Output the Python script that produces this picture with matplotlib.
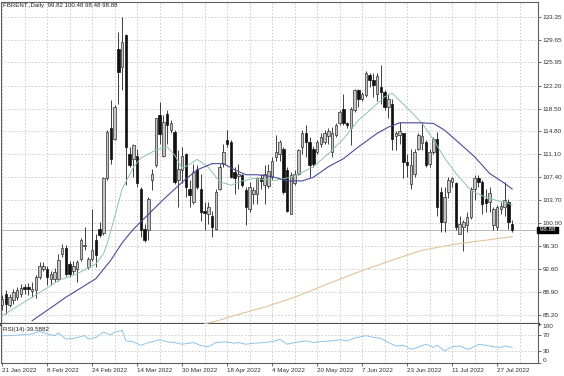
import numpy as np
import matplotlib
matplotlib.use("Agg")
import matplotlib.pyplot as plt

plt.rcParams['font.family'] = ['Liberation Sans', 'DejaVu Sans']

# daily candles, bar index 0 = 21 Jan 2022
opens = [86.7, 88.6, 86.7, 87.5, 88.0, 88.5, 89.6, 89.6, 89.0, 89.1,
         91.2, 92.6, 92.6, 91.0, 91.0, 91.0, 95.0, 96.0, 93.4, 92.3,
         92.6, 94.2, 96.3, 92.9, 94.2, 97.2, 99.1, 98.4, 107.2, 115.3,
         113.6, 128.2, 125.3, 130.4, 111.2, 110.4, 110.9, 105.5, 99.0, 98.8,
         106.9, 109.3, 117.4, 110.9, 117.7, 115.0, 114.7, 107.0, 108.5, 111.1,
         105.5, 103.4, 108.8, 105.5, 102.0, 101.4, 101.2, 99.1, 105.5, 109.6,
         113.4, 113.1, 108.2, 107.6, 107.7, 105.3, 102.3, 104.7, 104.7, 107.2,
         106.1, 106.0, 107.4, 110.7, 111.2, 112.0, 108.5, 101.5, 106.4, 108.0,
         112.3, 114.5, 113.1, 112.0, 111.5, 112.8, 113.1, 114.0, 111.5, 114.2,
         116.1, 118.5, 116.1, 115.3, 118.2, 121.5, 120.1, 120.7, 123.9, 123.1,
         120.9, 122.0, 121.2, 118.8, 119.3, 114.0, 114.2, 114.5, 109.9, 106.3,
         108.0, 112.0, 113.0, 113.1, 109.6, 111.5, 113.6, 105.0, 100.2, 105.0,
         106.6, 106.4, 98.3, 99.4, 99.6, 101.0, 105.5, 107.2, 106.6, 103.9,
         103.4, 99.6, 99.4, 102.2, 102.6, 103.4, 99.82]
highs = [88.3, 89.1, 88.5, 89.3, 89.6, 90.1, 90.2, 90.3, 90.4, 91.6,
         93.7, 93.7, 93.0, 92.2, 92.8, 95.0, 96.6, 96.4, 93.9, 93.8,
         94.0, 97.5, 99.3, 94.5, 102.3, 98.3, 100.1, 107.4, 115.0, 119.9,
         119.0, 130.9, 133.35, 130.6, 112.3, 112.8, 112.0, 105.8, 99.9, 104.2,
         108.8, 117.0, 119.6, 117.4, 118.2, 116.6, 115.0, 111.8, 112.3, 111.3,
         106.9, 109.6, 109.3, 108.0, 103.4, 103.4, 102.0, 105.5, 109.6, 112.8,
         115.0, 113.4, 109.1, 109.6, 108.0, 105.8, 106.6, 105.8, 107.4, 108.0,
         109.3, 109.6, 110.7, 114.2, 113.4, 112.3, 109.1, 108.2, 108.5, 112.0,
         115.0, 115.8, 113.9, 112.5, 113.4, 114.5, 115.0, 115.3, 115.5, 116.1,
         118.2, 120.9, 116.3, 118.8, 121.7, 121.6, 121.2, 124.5, 124.2, 124.2,
         124.2, 125.5, 121.5, 120.9, 120.1, 114.8, 116.3, 114.6, 111.2, 112.0,
         112.0, 114.5, 116.3, 113.4, 112.0, 113.9, 114.7, 105.8, 105.8, 107.4,
         107.4, 106.6, 101.2, 100.5, 101.8, 105.8, 107.7, 107.7, 106.9, 105.5,
         105.8, 102.6, 102.9, 103.4, 106.6, 103.9, 100.48]
lows = [85.9, 85.3, 86.4, 86.9, 87.6, 88.0, 88.5, 88.3, 88.0, 87.8,
        91.0, 92.3, 89.9, 90.0, 90.5, 90.7, 94.5, 91.5, 91.2, 91.8,
        90.4, 93.9, 95.6, 92.6, 93.8, 92.9, 97.7, 98.0, 106.9, 109.6,
        113.4, 119.3, 121.5, 106.1, 109.0, 107.4, 105.8, 97.7, 96.9, 97.2,
        105.3, 109.0, 112.8, 110.7, 112.8, 114.6, 106.3, 102.6, 106.4, 104.2,
        102.6, 103.1, 105.5, 100.4, 98.8, 99.9, 97.7, 98.8, 105.3, 109.1,
        112.3, 107.2, 104.7, 105.5, 105.8, 99.6, 101.8, 103.1, 103.1, 105.5,
        103.1, 105.7, 106.9, 110.1, 110.1, 104.7, 101.8, 101.4, 106.1, 107.7,
        111.2, 110.7, 107.4, 109.0, 111.2, 112.3, 112.8, 112.8, 110.7, 113.9,
        115.8, 115.8, 115.3, 112.6, 118.0, 118.8, 119.8, 120.4, 122.0, 120.4,
        119.8, 119.3, 118.2, 117.0, 111.8, 111.8, 112.8, 107.2, 107.4, 105.5,
        107.4, 111.8, 111.8, 109.0, 109.0, 111.2, 101.2, 98.5, 98.5, 104.0,
        105.8, 98.8, 98.2, 95.4, 98.5, 100.7, 103.7, 105.8, 101.5, 101.8,
        101.8, 98.8, 98.8, 101.5, 101.2, 99.1, 98.48]
closes = [87.7, 86.9, 88.0, 88.8, 89.1, 89.5, 89.3, 89.3, 89.4, 91.2,
          93.1, 93.0, 91.2, 91.8, 92.0, 94.0, 95.9, 91.8, 91.8, 93.1,
          93.7, 97.2, 96.5, 94.2, 95.6, 94.8, 98.0, 107.2, 114.7, 110.4,
          118.7, 124.4, 129.3, 112.3, 109.3, 112.6, 106.4, 98.8, 97.2, 103.9,
          108.0, 116.9, 114.4, 116.3, 115.8, 116.1, 106.6, 108.8, 110.9, 105.8,
          104.5, 108.2, 105.8, 101.8, 101.6, 102.6, 99.4, 105.0, 109.1, 111.5,
          112.8, 107.4, 107.2, 108.0, 106.1, 102.6, 105.8, 105.3, 107.2, 106.8,
          108.0, 108.4, 110.1, 111.5, 113.1, 105.0, 102.0, 107.7, 108.0, 111.8,
          114.5, 113.1, 109.3, 109.5, 113.1, 113.9, 114.5, 114.8, 114.5, 115.8,
          118.0, 116.1, 115.8, 118.5, 121.5, 120.1, 120.9, 124.2, 123.1, 122.3,
          123.7, 121.2, 118.8, 120.0, 113.6, 114.5, 114.9, 109.9, 109.3, 109.4,
          111.5, 114.2, 114.0, 109.3, 111.5, 113.6, 102.6, 100.2, 104.2, 106.9,
          107.2, 99.4, 99.9, 100.2, 101.0, 105.5, 107.2, 106.6, 103.1, 103.2,
          104.8, 102.2, 102.6, 102.8, 103.7, 100.2, 98.88]

# moving averages
fast_idx = [0, 4, 8, 12, 15, 20, 25, 27, 28, 30, 32, 35, 37, 41, 44, 46, 48, 50,
            52, 55, 58, 61, 64, 67, 70, 73, 77, 80, 83, 87, 91, 95, 98, 100, 102,
            104, 106, 109, 112, 115, 118, 121, 125, 128, 132, 134, 136]
fast_ma = [85.0, 86.5, 88.0, 89.5, 90.7, 91.8, 93.4, 95.0, 96.6, 101.0, 105.5,
           109.0, 110.5, 111.8, 112.3, 111.0, 108.8, 109.5, 110.3, 109.0, 106.7,
           106.1, 106.8, 107.2, 107.0, 106.9, 107.4, 108.2, 109.1, 111.2, 113.6,
           116.6, 118.2, 119.3, 120.4, 121.0, 119.8, 118.0, 116.1, 113.5, 110.5,
           108.0, 105.3, 104.4, 103.6, 103.4, 102.9]
slow_idx = [8, 13, 17, 21, 25, 29, 32, 35, 38, 43, 48, 52, 56, 59, 62, 65, 68, 72,
            76, 80, 83, 87, 91, 95, 100, 103, 106, 111, 115, 118, 121, 126, 130,
            134, 136]
slow_ma = [84.2, 86.3, 88.0, 89.5, 91.0, 94.0, 96.8, 99.0, 100.8, 103.8, 106.6,
           108.6, 109.6, 109.6, 108.6, 107.8, 107.8, 107.5, 106.8, 106.8, 107.4,
           109.1, 110.4, 112.3, 114.5, 115.5, 116.2, 116.2, 116.1, 115.0, 113.4,
           110.7, 108.0, 106.4, 105.5]
long_idx = [54, 58, 64, 70, 78, 87, 96, 104, 112, 121, 130, 136]
long_ma = [83.7, 84.3, 85.4, 86.4, 88.0, 90.2, 92.3, 94.0, 95.6, 96.6, 97.3, 97.8]

rsi_idx = [0, 2, 5, 8, 10, 12, 14, 15, 17, 19, 22, 23, 25, 27, 29, 30, 32, 33,
           35, 37, 39, 42, 44, 46, 48, 51, 53, 55, 57, 60, 62, 63, 65, 67, 70,
           73, 74, 76, 78, 81, 83, 85, 88, 90, 92, 94, 97, 99, 101, 103, 105,
           107, 109, 110, 113, 115, 116, 118, 120, 122, 124, 125, 127, 129, 131,
           133, 134, 136]
rsi = [69.2, 69.2, 71.1, 73.7, 79.8, 73.7, 69.2, 76.3, 60.5, 62.3, 69.2, 60.5,
       64.9, 78.1, 71.1, 78.1, 82.5, 56.1, 53.5, 44.7, 51.8, 58.8, 53.5, 51.8,
       47.4, 51.8, 43.9, 41.2, 51.8, 53.5, 50.0, 51.8, 47.4, 50.0, 51.8, 56.1,
       60.5, 47.4, 51.8, 56.1, 51.8, 54.4, 56.1, 58.8, 56.1, 63.2, 69.2, 64.9,
       62.3, 51.8, 43.0, 44.7, 35.1, 36.8, 47.4, 39.5, 44.7, 30.7, 41.2, 43.0,
       35.1, 36.8, 47.4, 44.7, 41.2, 39.5, 43.0, 39.6]

date_labels = ['21 Jan 2022', '8 Feb 2022', '24 Feb 2022', '14 Mar 2022',
               '30 Mar 2022', '18 Apr 2022', '4 May 2022', '20 May 2022',
               '7 Jun 2022', '23 Jun 2022', '11 Jul 2022', '27 Jul 2022']
price_ticks = [133.35, 129.65, 125.95, 122.20, 118.50, 114.80, 111.10, 107.40,
               103.70, 100.00, 96.30, 92.60, 88.90, 85.20]

o = np.array(opens)
h = np.array(highs)
l = np.array(lows)
c = np.array(closes)
x = np.arange(len(o))
up = c >= o

fig = plt.figure(figsize=(5.64, 3.76), dpi=100)
ax = fig.add_axes([0.002, 1 - 323.5 / 376, 0.952, 321.5 / 376])
ax2 = fig.add_axes([0.002, 1 - 363 / 376, 0.952, 39.5 / 376])

grid_kw = dict(color='#c8c8c8', lw=0.6, ls=(0, (2, 2)))
xgrid = np.arange(0, 144, 6)
for a in (ax, ax2):
    for g in xgrid:
        a.axvline(g, zorder=0, **grid_kw)
    a.set_xlim(-0.27, 142.9)
    for s in a.spines.values():
        s.set_color('#606060')
        s.set_linewidth(0.8)
for p in price_ticks:
    ax.axhline(p, zorder=0, **grid_kw)
for r in (70, 30):
    ax2.axhline(r, zorder=0, **grid_kw)

ax.axhline(closes[-1], color='#b8b8b8', lw=0.7, zorder=1)

body_bottom = np.minimum(o, c)
body_h = np.maximum(np.abs(c - o), 0.12)
ax.vlines(x, l, h, color='#202020', lw=0.6, zorder=2)
ax.bar(x[up], body_h[up], bottom=body_bottom[up], width=0.64,
       color='#c4c4c4', edgecolor='#303030', linewidth=0.5, zorder=3)
ax.bar(x[~up], body_h[~up], bottom=body_bottom[~up], width=0.64,
       color='#111111', edgecolor='#111111', linewidth=0.5, zorder=3)

ax.plot(long_idx, long_ma, color='#e3c39b', lw=0.8, zorder=4)
ax.plot(fast_idx, fast_ma, color='#8ec5a4', lw=0.7, zorder=4)
ax.plot(slow_idx, slow_ma, color='#4b4c99', lw=0.8, zorder=4)

ax.set_ylim(83.75, 135.73)
ax.yaxis.tick_right()
ax.set_yticks(price_ticks)
ax.set_yticklabels(['%.2f' % p for p in price_ticks])
ax.tick_params(axis='y', labelsize=4.6, length=2, width=0.5, pad=1.5,
               colors='#303030')
ax.set_xticks([])
ax.spines['bottom'].set_linewidth(2.3)
ax.spines['bottom'].set_color('#505050')

ax.text(0.004, 0.997, 'FBRENT.,Daily  99.82 100.48 98.48 98.88',
        transform=ax.transAxes, fontsize=4.4, va='top', ha='left',
        color='#202020')
ax.text(1.0, closes[-1], ' 98.88 ', transform=ax.get_yaxis_transform(),
        fontsize=4.6, va='center', ha='left', color='white',
        bbox=dict(boxstyle='square,pad=0.1', fc='black', ec='black'))

ax2.plot(rsi_idx, rsi, color='#8cc4ea', lw=0.7)
ax2.set_ylim(0, 100)
ax2.yaxis.tick_right()
ax2.set_yticks([100, 70, 30, 0])
ax2.set_yticklabels(['100', '70', '30', '0'])
ax2.tick_params(axis='y', labelsize=4.6, length=2, width=0.5, pad=1.5,
                colors='#303030')
ylab = ax2.get_yticklabels()
ylab[0].set_va('top')
ylab[-1].set_va('bottom')
ax2.spines['top'].set_visible(False)
ax2.set_xticks(np.arange(0, 133, 12))
ax2.set_xticklabels(date_labels, ha='left')
ax2.tick_params(axis='x', labelsize=4.5, length=2, width=0.5, pad=1.5,
                colors='#303030')
ax2.text(0.004, 0.9, 'RSI(14) 39.5882', transform=ax2.transAxes,
         fontsize=4.5, va='top', ha='left', color='#202020')

fig.savefig('out.png', dpi=100)
